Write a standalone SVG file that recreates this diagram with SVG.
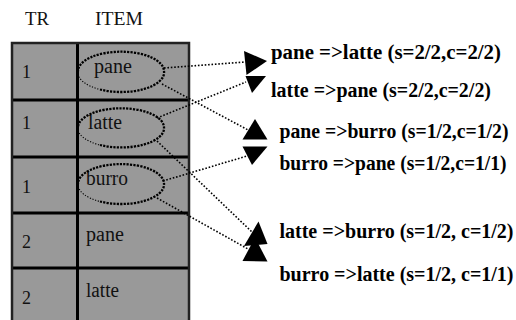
<svg xmlns="http://www.w3.org/2000/svg" width="516" height="320" viewBox="0 0 516 320">
  <style>
    text { font-family: 'Liberation Serif', 'DejaVu Serif', serif; }
    .hdr { font-size: 18px; fill: #111; }
    .num { font-size: 18px; fill: #111; }
    .item { font-size: 20px; fill: #111; }
    .rule { font-size: 20px; font-weight: bold; fill: #000; }
    .cell { fill: #999999; }
    .grid { stroke: #000; stroke-width: 3; fill: none; }
    .frame { stroke: #222; stroke-width: 2.5; fill: none; }
    .oval { fill: none; stroke: #000; stroke-width: 2.3; stroke-dasharray: 2.2 1.2; }
    .oval-thin { fill: none; stroke: #000; stroke-width: 1.1; stroke-dasharray: 1.2 1.6; }
    .link { fill: none; stroke: #000; stroke-width: 1.6; stroke-dasharray: 1.6 1.8; }
    .head { fill: #000; }
  </style>

  <!-- column headers -->
  <g id="headers">
    <text class="hdr" font-family="Liberation Serif, serif" x="25" y="25" textLength="24" lengthAdjust="spacingAndGlyphs">TR</text>
    <text class="hdr" font-family="Liberation Serif, serif" x="95" y="25" textLength="48" lengthAdjust="spacingAndGlyphs">ITEM</text>
  </g>

  <!-- transaction table -->
  <g id="table">
    <rect class="cell" x="12" y="43" width="177" height="285"/>
    <line class="grid" x1="77.5" y1="43" x2="77.5" y2="328"/>
    <line class="grid" x1="12" y1="100" x2="189" y2="100"/>
    <line class="grid" x1="12" y1="157" x2="189" y2="157"/>
    <line class="grid" x1="12" y1="213" x2="189" y2="213"/>
    <line class="grid" x1="12" y1="268" x2="189" y2="268"/>
    <rect class="frame" x="12" y="43" width="177" height="285"/>
  </g>

  <g id="row1">
    <text class="num" x="22" y="78">1</text>
    <text class="item" x="94" y="73" textLength="38" lengthAdjust="spacingAndGlyphs">pane</text>
    <path class="oval" d="M 100 89.5 A 43 19.5 0 0 0 164 71.2 A 43 19.5 0 0 0 78 71.2"/>
    <path class="oval-thin" d="M 78 71.2 A 43 19.5 0 0 0 100 89.5"/>
  </g>
  <g id="row2">
    <text class="num" x="22" y="129">1</text>
    <text class="item" x="88" y="129" textLength="34" lengthAdjust="spacingAndGlyphs">latte</text>
    <path class="oval" d="M 100 145 A 43 19.2 0 0 0 164 127.5 A 43 19.2 0 0 0 78 127.5"/>
    <path class="oval-thin" d="M 78 127.5 A 43 19.2 0 0 0 100 145"/>
  </g>
  <g id="row3">
    <text class="num" x="22" y="193">1</text>
    <text class="item" x="86" y="185" textLength="42" lengthAdjust="spacingAndGlyphs">burro</text>
    <path class="oval" d="M 100 201.5 A 43 19.6 0 0 0 164 183.7 A 43 19.6 0 0 0 78 183.7"/>
    <path class="oval-thin" d="M 78 183.7 A 43 19.6 0 0 0 100 201.5"/>
  </g>
  <g id="row4">
    <text class="num" x="22" y="248">2</text>
    <text class="item" x="86" y="241" textLength="38" lengthAdjust="spacingAndGlyphs">pane</text>
  </g>
  <g id="row5">
    <text class="num" x="22" y="304">2</text>
    <text class="item" x="86" y="297" textLength="33" lengthAdjust="spacingAndGlyphs">latte</text>
  </g>

  <!-- dotted connectors from the item ovals to the rules -->
  <g id="connectors">
    <path class="link" d="M 164 68 L 245 62"/>
    <path class="link" d="M 157 118 L 246 82"/>
    <path class="link" d="M 162 84 L 250 131"/>
    <path class="link" d="M 163 181 L 247 156"/>
    <path class="link" d="M 157 141 L 252 232"/>
    <path class="link" d="M 157 198 L 248 249"/>
    <polygon class="head" points="244,51 267,61 246.5,75"/>
    <polygon class="head" points="245.5,76 266,76 252,93"/>
    <polygon class="head" points="255,119 267.5,139.5 242.5,139.5"/>
    <polygon class="head" points="242.5,146.5 267.5,146.5 252,165"/>
    <polygon class="head" points="258.5,221.5 267.5,244 244,246"/>
    <polygon class="head" points="255,237.5 267.5,261.5 242.5,261"/>
  </g>

  <!-- association rules -->
  <g id="rules">
    <text class="rule" x="271" y="59" textLength="230" lengthAdjust="spacingAndGlyphs">pane =&gt;latte (s=2/2,c=2/2)</text>
    <text class="rule" x="271" y="96.5" textLength="220" lengthAdjust="spacingAndGlyphs">latte =&gt;pane (s=2/2,c=2/2)</text>
    <text class="rule" x="279.5" y="138" textLength="229" lengthAdjust="spacingAndGlyphs">pane =&gt;burro (s=1/2,c=1/2)</text>
    <text class="rule" x="279.5" y="169.5" textLength="227" lengthAdjust="spacingAndGlyphs">burro =&gt;pane (s=1/2,c=1/1)</text>
    <text class="rule" x="279.5" y="238" textLength="234" lengthAdjust="spacingAndGlyphs">latte =&gt;burro (s=1/2, c=1/2)</text>
    <text class="rule" x="279.5" y="280.5" textLength="234" lengthAdjust="spacingAndGlyphs">burro =&gt;latte (s=1/2, c=1/1)</text>
  </g>
</svg>
